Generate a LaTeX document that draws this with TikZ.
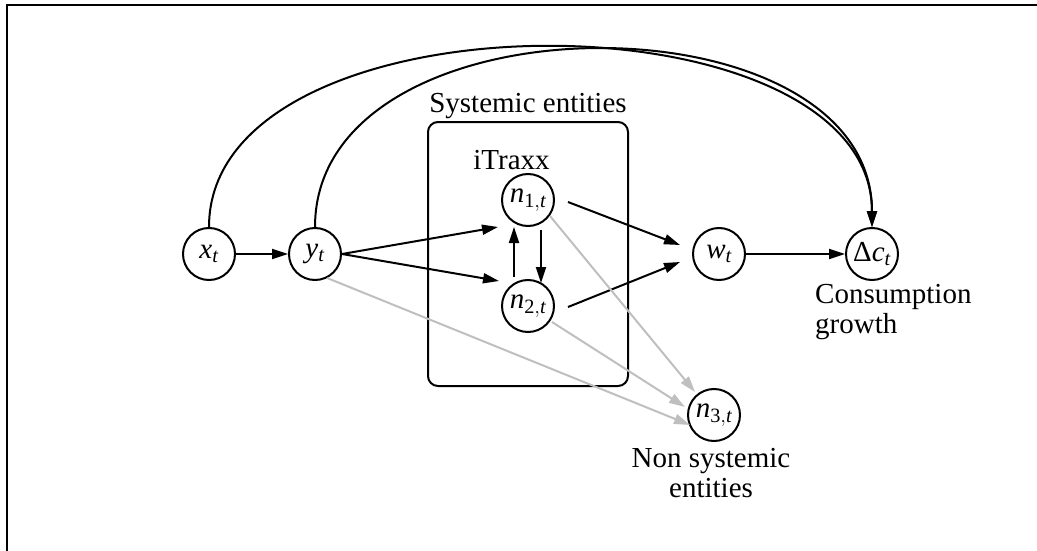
\documentclass[tikz,border=0pt]{standalone}
\usepackage{fontspec}
\setmainfont{Liberation Serif}
\usetikzlibrary{arrows.meta,calc}
\newcommand\mvar[2]{$\mathit{#1}_{#2}$}
\begin{document}
\begin{tikzpicture}[x=1pt,y=-1pt,
  font=\fontsize{29}{30}\selectfont,
  var/.style={circle, draw, line width=2pt, minimum size=52pt, inner sep=0pt},
  arr/.style={line width=2pt, -{Triangle[length=16pt,width=10pt]}},
  garr/.style={arr, draw=gray!50, fill=gray!50},
  lbl/.style={inner sep=0pt}]
\useasboundingbox (0,0) rectangle (1037,551);
\draw[line width=1.6pt] (7,551) -- (7,5) -- (1037,5);

\node[draw, line width=2pt, rounded corners=10pt, minimum width=200pt, minimum height=264pt, inner sep=0pt] (box) at (528,254) {};
\node[lbl, anchor=base] (sys) at (528,113) {Systemic entities};
\node[lbl, anchor=base] (itraxx) at (511.5,169) {iTraxx};

\node[var] (x) at (209,254) {\mvar{x}{\mathit{t}}};
\node[var] (y) at (315,254) {\mvar{y}{\mathit{t}}};
\node[var] (n1) at (528,200) {\mvar{n}{\mathrm{1,}\mathit{t}}};
\node[var] (n2) at (528,306) {\mvar{n}{\mathrm{2,}\mathit{t}}};
\node[var] (w) at (719,254) {\mvar{w}{\mathit{t}}};
\node[var] (dc) at (872,254) {Δ\mvar{c}{\mathit{t}}};
\node[var] (n3) at (714,415) {\mvar{n}{\mathrm{3,}\mathit{t}}};

\node[lbl, anchor=north west, align=left] (cons) at (815,284) {Consumption\\growth};
\node[lbl, anchor=north, align=center] (nonsys) at (711,448) {Non systemic\\entities};

\draw[arr] (x.north) .. controls +(0,-239) and +(0,-239) .. (dc.north);
\draw[arr] (y.north) .. controls +(0,-236) and +(0,-236) .. (dc.north);

\draw[arr] (x.east) -- (y.west);
\draw[arr] (y.east) -- ([shift={(-30,27)}]n1.center);
\draw[arr] (y.east) -- ([shift={(-29,-25)}]n2.center);
\draw[arr] ([shift={(-14,-29)}]n2.center) -- ([shift={(-14,27)}]n1.center);
\draw[arr] ([shift={(13,30)}]n1.center) -- ([shift={(13,-23)}]n2.center);
\draw[arr] ([shift={(40,2)}]n1.center) -- ([shift={(-39,-9)}]w.center);
\draw[arr] ([shift={(40,1)}]n2.center) -- ([shift={(-39,8)}]w.center);
\draw[arr] (w.east) -- (dc.west);

\draw[garr] (y.-63) -- ([shift={(-24,10)}]n3.center);
\draw[garr] ([shift={(24,16)}]n2.center) -- ([shift={(-29,-8)}]n3.center);
\draw[garr] ([shift={(22,16)}]n1.center) -- ([shift={(-19,-23)}]n3.center);
\end{tikzpicture}
\end{document}
